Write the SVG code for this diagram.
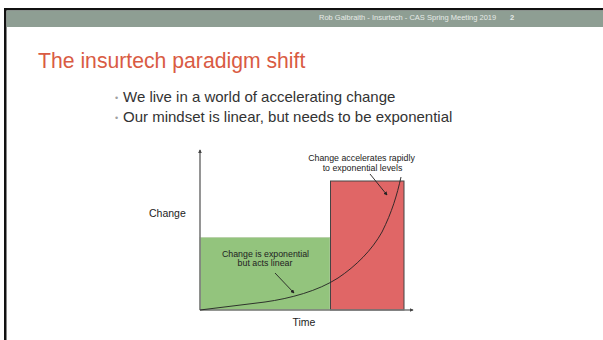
<svg xmlns="http://www.w3.org/2000/svg" width="603" height="340" viewBox="0 0 603 340">
<style>
text{font-family:"Liberation Sans",Arial,sans-serif}
.hdr{font-size:7.5px;fill:#e6ebe7}
.title{font-size:21.2px;fill:#d95b43}
.bul{font-size:15px;fill:#333}
.dot{font-size:9px;fill:#a0a0a0}
.lbl{font-size:10.5px;fill:#222}
.note{font-size:8.8px;fill:#222;text-anchor:middle}
.axis{stroke:#7a7a7a;stroke-width:1.6;fill:none}
.conn{stroke:#222;stroke-width:0.9;fill:none}
</style>
<defs>
<marker id="ah" viewBox="0 0 6 6" refX="5" refY="3" markerWidth="4" markerHeight="4" orient="auto" markerUnits="userSpaceOnUse">
<path d="M0,0 L6,3 L0,6 z" fill="#222"/>
</marker>
<marker id="axh" viewBox="0 0 6 6" refX="5" refY="3" markerWidth="4" markerHeight="4" orient="auto" markerUnits="userSpaceOnUse">
<path d="M0,0 L6,3 L0,6 z" fill="#444"/>
</marker>
</defs>
<rect x="0" y="0" width="603" height="340" fill="#fff"/>
<rect x="4" y="8" width="599" height="2.5" fill="#111"/>
<rect x="4" y="8" width="2.5" height="332" fill="#111"/>
<rect x="6.5" y="10.5" width="596.5" height="16.5" fill="#8e9e93"/>
<text class="hdr" x="319" y="20">Rob Galbraith - Insurtech - CAS Spring Meeting 2019</text>
<text class="hdr" x="510" y="20" font-weight="bold">2</text>
<text class="title" x="38" y="68">The insurtech paradigm shift</text>
<text class="dot" x="115" y="101">•</text>
<text class="bul" x="123" y="102">We live in a world of accelerating change</text>
<text class="dot" x="115" y="121">•</text>
<text class="bul" x="123" y="122">Our mindset is linear, but needs to be exponential</text>
<g id="green-box">
<rect x="200" y="237.5" width="130" height="72.5" fill="#93c47d" stroke="#b7cfa9" stroke-width="0.8"/>
</g>
<g id="red-box">
<rect x="330.5" y="181" width="73.5" height="129" fill="#e06666" stroke="#444" stroke-width="1"/>
</g>
<g id="axes">
<line class="axis" x1="200" y1="310" x2="200" y2="150" marker-end="url(#axh)"/>
<line class="axis" x1="200" y1="310" x2="413" y2="310" stroke="#555" stroke-width="1" marker-end="url(#axh)"/>
</g>
<g id="connectors">
<path class="conn" d="M200,310 L265,302 C290,298.5 318,291 338,278 C356,266 372,250 382,232 C392,212 397,195 401,177"/>
<line class="conn" x1="370" y1="174" x2="387" y2="195" marker-end="url(#ah)"/>
<line class="conn" x1="275" y1="273" x2="294" y2="293" marker-end="url(#ah)"/>
</g>
<g id="labels">
<text class="lbl" x="149" y="217">Change</text>
<text class="lbl" x="304" y="326" text-anchor="middle">Time</text>
<text class="note" x="361.5" y="160.5">Change accelerates rapidly</text>
<text class="note" x="362.5" y="170.5">to exponential levels</text>
<text class="note" x="265.5" y="256.5">Change is exponential</text>
<text class="note" x="265" y="266">but acts linear</text>
</g>
</svg>
